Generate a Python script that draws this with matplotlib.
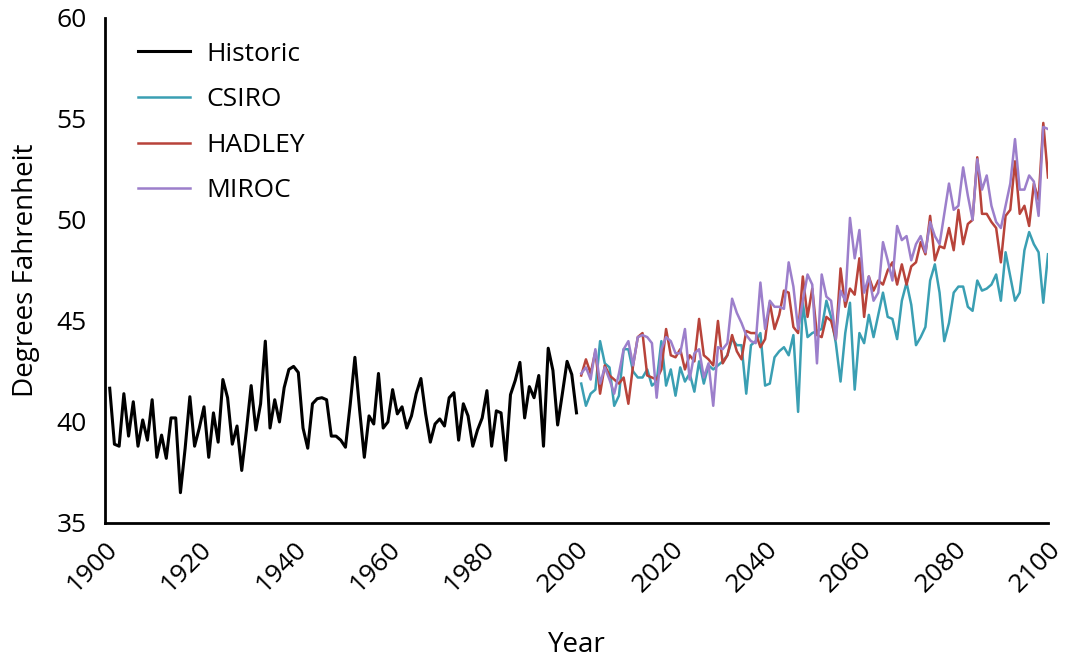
import numpy as np
import matplotlib.pyplot as plt

plt.rcParams['font.family'] = ['Open Sans', 'DejaVu Sans']

# annual mean temperature, degrees F
hist_years = np.arange(1901, 2001)
historic = [41.67, 38.9, 38.8, 41.4, 39.3, 41.0, 38.8, 40.1, 39.1, 41.1,
            38.25, 39.35, 38.2, 40.2, 40.2, 36.5, 38.7, 41.25, 38.8, 39.7,
            40.75, 38.25, 40.45, 39.0, 42.1, 41.2, 38.9, 39.8, 37.6, 39.6,
            41.8, 39.6, 40.9, 44.0, 39.7, 41.1, 40.0, 41.7, 42.6, 42.75,
            42.45, 39.7, 38.7, 40.9, 41.15, 41.2, 41.1, 39.3, 39.3, 39.1,
            38.75, 40.85, 43.2, 40.6, 38.25, 40.3, 39.9, 42.4, 39.7, 40.0,
            41.6, 40.4, 40.75, 39.7, 40.3, 41.4, 42.15, 40.4, 39.0, 39.9,
            40.15, 39.8, 41.2, 41.45, 39.1, 40.9, 40.3, 38.8, 39.6, 40.2,
            41.55, 38.8, 40.55, 40.45, 38.1, 41.35, 42.05, 42.95, 40.2, 41.75,
            41.2, 42.3, 38.8, 43.65, 42.55, 39.85, 41.4, 43.0, 42.35, 40.45]

proj_years = np.arange(2001, 2101)
csiro = [41.9, 40.8, 41.4, 41.6, 44.0, 42.9, 42.7, 40.8, 41.3, 43.6,
         43.6, 42.5, 42.2, 42.2, 42.6, 41.8, 42.0, 44.0, 41.8, 42.6,
         41.3, 42.7, 42.0, 42.4, 41.5, 43.0, 41.9, 42.8, 42.6, 42.8,
         43.0, 43.3, 44.1, 43.8, 43.8, 41.4, 43.8, 44.0, 44.4, 41.8,
         41.9, 43.2, 43.5, 43.7, 43.3, 44.3, 40.5, 45.9, 44.2, 44.4,
         44.5, 44.6, 46.0, 45.2, 43.9, 42.0, 44.4, 45.9, 41.6, 44.4,
         43.9, 45.3, 44.2, 45.3, 46.4, 45.2, 45.1, 44.1, 46.0, 46.9,
         45.8, 43.8, 44.2, 44.7, 47.0, 47.8, 46.4, 44.0, 44.9, 46.4,
         46.7, 46.7, 45.7, 45.5, 47.0, 46.5, 46.6, 46.8, 47.3, 46.0,
         48.4, 47.2, 46.0, 46.4, 48.5, 49.4, 48.8, 48.4, 45.9, 48.3]
hadley = [42.3, 43.1, 42.4, 43.5, 41.4, 42.8, 42.3, 42.1, 41.9, 42.2,
          40.9, 42.8, 44.2, 44.4, 42.3, 42.2, 42.1, 42.6, 44.6, 43.3,
          43.2, 43.6, 42.6, 43.3, 43.0, 45.1, 43.3, 43.1, 42.8, 45.0,
          42.9, 43.3, 44.3, 43.5, 43.1, 44.5, 44.4, 44.4, 43.7, 44.1,
          45.9, 44.6, 45.3, 46.5, 46.4, 44.7, 44.4, 47.2, 45.2, 46.6,
          44.3, 44.2, 45.2, 45.0, 44.1, 47.6, 45.7, 46.6, 46.3, 48.1,
          45.2, 47.2, 46.5, 47.0, 46.8, 47.5, 47.9, 46.8, 47.8, 46.8,
          47.7, 47.9, 48.9, 48.3, 50.2, 48.0, 48.7, 48.6, 49.6, 48.5,
          50.5, 48.8, 49.8, 50.0, 53.1, 50.3, 50.3, 49.9, 49.6, 47.9,
          50.2, 50.5, 52.9, 50.3, 50.7, 49.7, 51.8, 51.0, 54.8, 52.1]
miroc = [42.4, 42.7, 42.1, 43.6, 41.9, 42.7, 42.1, 41.4, 42.4, 43.6,
         44.0, 42.8, 44.2, 44.3, 44.2, 43.9, 41.2, 43.6, 44.2, 44.0,
         43.4, 43.4, 44.6, 42.1, 43.4, 43.6, 42.2, 42.9, 40.8, 43.7,
         43.6, 43.9, 46.1, 45.4, 44.9, 44.3, 44.0, 43.9, 46.9, 44.6,
         46.0, 45.7, 45.7, 45.6, 47.9, 46.7, 44.6, 46.0, 47.3, 46.8,
         42.9, 47.3, 46.2, 46.0, 44.1, 46.5, 46.0, 50.1, 48.1, 49.5,
         46.4, 47.2, 46.0, 46.4, 48.9, 48.0, 47.0, 49.7, 49.0, 49.2,
         48.0, 48.8, 49.2, 48.4, 49.9, 49.2, 48.8, 50.3, 51.8, 50.5,
         50.7, 52.6, 51.2, 50.0, 53.0, 51.5, 52.2, 50.7, 49.9, 49.6,
         50.7, 51.8, 54.0, 51.5, 51.5, 52.2, 51.9, 50.2, 54.6, 54.5]

fig = plt.figure(figsize=(10.67, 6.62), dpi=100)
ax = fig.add_axes([0.0984, 0.21, 0.8838, 0.763])

ax.plot(hist_years, historic, color='black', lw=2.2, label='Historic')
ax.plot(proj_years, csiro, color='#3a9fb3', lw=1.8, label='CSIRO')
ax.plot(proj_years, hadley, color='#b8433a', lw=1.8, label='HADLEY')
ax.plot(proj_years, miroc, color='#9c7fcb', lw=1.8, label='MIROC')

ax.set_xlim(1900, 2100)
ax.set_ylim(35, 60)
ax.set_xticks(range(1900, 2101, 20))
ax.set_yticks(range(35, 61, 5))
ax.tick_params(length=0, labelsize=19)
ax.tick_params(axis='y', pad=13)
ax.tick_params(axis='x', pad=10)
plt.setp(ax.get_xticklabels(), rotation=45, ha='right', rotation_mode='anchor')

for s in ['top', 'right']:
    ax.spines[s].set_visible(False)
for s in ['left', 'bottom']:
    ax.spines[s].set_linewidth(2)

ax.set_xlabel('Year', fontsize=20, labelpad=24)
ax.set_ylabel('Degrees Fahrenheit', fontsize=20, labelpad=12)

ax.legend(loc='upper left', frameon=False, fontsize=19, handlelength=1.95,
          handletextpad=0.65, labelspacing=0.78, bbox_to_anchor=(0.01, 1.0))

fig.savefig('out.png', dpi=100)
